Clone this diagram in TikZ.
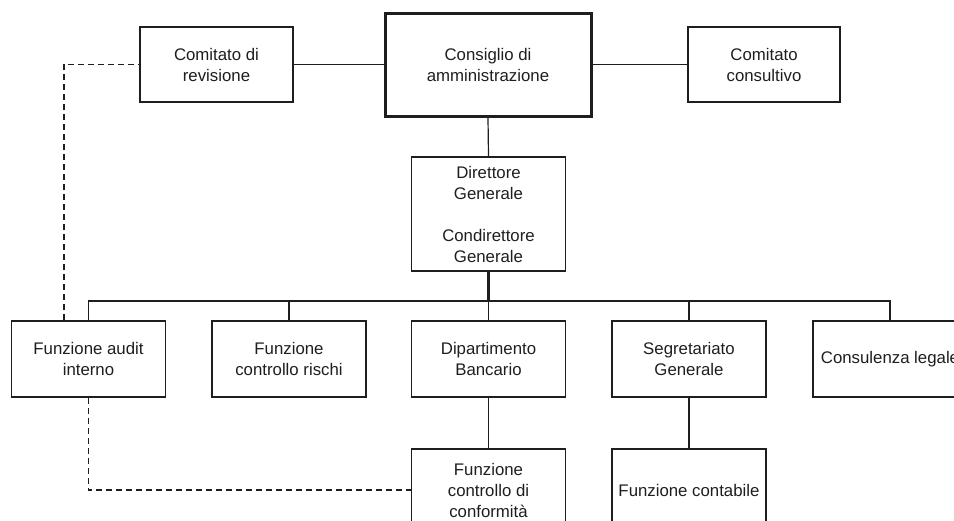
\documentclass[tikz,border=0pt]{standalone}
\usepackage{fontspec}
\setmainfont{Liberation Sans}
\definecolor{ink}{HTML}{1E1E1E}
\begin{document}
\begin{tikzpicture}[x=1pt,y=-1pt,
  unit/.style={draw=ink, line width=1.2pt, text=ink, inner sep=0pt, align=center,
    minimum width=154pt, minimum height=76pt,
    font=\fontsize{16.8}{21}\selectfont},
  board/.style={unit, line width=3pt, minimum width=206pt, minimum height=103pt},
  link/.style={draw=ink, line width=1.2pt},
  trunk/.style={draw=ink, line width=2.2pt},
  dotlink/.style={draw=ink, line width=1.2pt, dash pattern=on 6pt off 4pt}]
\useasboundingbox (0,0) rectangle (954,520);
\clip (0,0) rectangle (954,520);

% governing bodies
\node[unit, minimum width=153pt, minimum height=75pt] (rev) at (216.5,64.5) {Comitato di\\revisione};
\node[board] (cda) at (488,64.5) {Consiglio di\\amministrazione};
\node[unit, minimum width=152pt, minimum height=75pt] (cons) at (764,64.5) {Comitato\\consultivo};

% general management
\node[unit, minimum height=114pt] (dg) at (488.5,214) {Direttore\\Generale\\[21pt]Condirettore\\Generale};

% first reporting level
\node[unit] (aud) at (88.5,359) {Funzione audit\\interno};
\node[unit] (risk) at (289,359) {Funzione\\controllo rischi};
\node[unit] (bank) at (488.5,359) {Dipartimento\\Bancario};
\node[unit] (seg) at (689,359) {Segretariato\\Generale};
\node[unit] (leg) at (890,359) {Consulenza legale};

% second reporting level
\node[unit, minimum height=82pt] (conf) at (488.5,490) {Funzione\\controllo di\\conformità};
\node[unit, minimum height=82pt] (acc) at (689,490) {Funzione contabile};

% connectors
\draw[link] (rev.east) -- (cda.west);
\draw[link] (cda.east) -- (cons.west);
\draw[link] (cda.south) -- (dg.north);
\coordinate (bar) at (488.5,301);
\draw[trunk] (dg.south) -- (bar);
\draw[link] (aud.north) -- (aud.north |- bar) -- (leg.north |- bar) -- (leg.north);
\draw[link] (risk.north) -- (risk.north |- bar);
\draw[link] (bank.north) -- (bank.north |- bar);
\draw[link] (seg.north) -- (seg.north |- bar);
\draw[link] (bank.south) -- (conf.north);
\draw[link] (seg.south) -- (acc.north);

% dotted-line reporting of internal audit
\draw[dotlink] ([xshift=-24.5pt]aud.north) |- (rev.west);
\draw[dotlink] (aud.south) |- (conf.west);
\end{tikzpicture}
\end{document}
